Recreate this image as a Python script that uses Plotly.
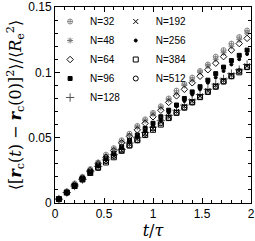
import plotly.graph_objects as go

t_vals = [0.04, 0.12, 0.20, 0.28, 0.36, 0.44, 0.52, 0.60, 0.68, 0.76, 0.84, 0.92, 1.00,
          1.08, 1.16, 1.24, 1.32, 1.40, 1.48, 1.56, 1.64, 1.72, 1.80, 1.88, 1.96]

labels = ["N=32", "N=48", "N=64", "N=96", "N=128", "N=192", "N=256", "N=384", "N=512"]

msd = {
    "N=32":  [0.003, 0.009, 0.015, 0.020, 0.026, 0.031, 0.037, 0.042, 0.048, 0.053, 0.059, 0.064, 0.069,
              0.074, 0.080, 0.086, 0.091, 0.096, 0.101, 0.106, 0.112, 0.117, 0.122, 0.127, 0.132],
    "N=48":  [0.003, 0.008, 0.014, 0.020, 0.025, 0.031, 0.036, 0.041, 0.047, 0.052, 0.058, 0.063, 0.068,
              0.073, 0.079, 0.084, 0.090, 0.094, 0.100, 0.105, 0.110, 0.115, 0.120, 0.125, 0.130],
    "N=64":  [0.003, 0.008, 0.014, 0.019, 0.025, 0.030, 0.035, 0.040, 0.046, 0.051, 0.056, 0.061, 0.066,
              0.071, 0.077, 0.082, 0.087, 0.092, 0.097, 0.102, 0.107, 0.112, 0.117, 0.122, 0.126],
    "N=96":  [0.003, 0.008, 0.013, 0.019, 0.024, 0.029, 0.034, 0.038, 0.043, 0.048, 0.052, 0.057, 0.061,
              0.066, 0.071, 0.075, 0.080, 0.085, 0.089, 0.094, 0.099, 0.104, 0.109, 0.113, 0.117],
    "N=128": [0.003, 0.008, 0.013, 0.018, 0.024, 0.028, 0.033, 0.037, 0.041, 0.046, 0.050, 0.054, 0.058,
              0.063, 0.067, 0.071, 0.075, 0.079, 0.083, 0.087, 0.091, 0.095, 0.099, 0.102, 0.106],
    "N=192": [0.003, 0.008, 0.013, 0.018, 0.023, 0.028, 0.032, 0.036, 0.040, 0.045, 0.049, 0.053, 0.057,
              0.062, 0.066, 0.070, 0.074, 0.078, 0.082, 0.086, 0.090, 0.094, 0.098, 0.101, 0.105],
    "N=256": [0.003, 0.008, 0.013, 0.018, 0.023, 0.028, 0.033, 0.037, 0.042, 0.047, 0.051, 0.055, 0.060,
              0.064, 0.069, 0.074, 0.078, 0.083, 0.087, 0.092, 0.096, 0.101, 0.106, 0.110, 0.114],
    "N=384": [0.003, 0.008, 0.013, 0.018, 0.023, 0.027, 0.031, 0.035, 0.040, 0.044, 0.048, 0.052, 0.056,
              0.060, 0.065, 0.069, 0.073, 0.077, 0.081, 0.085, 0.089, 0.093, 0.097, 0.100, 0.104],
    "N=512": [0.003, 0.008, 0.013, 0.018, 0.023, 0.027, 0.032, 0.036, 0.040, 0.044, 0.048, 0.053, 0.057,
              0.061, 0.065, 0.069, 0.073, 0.077, 0.081, 0.085, 0.089, 0.093, 0.097, 0.101, 0.104],
}

styles = {
    "N=32":  dict(symbol="circle-cross-open", color="#8a8a8a", size=5, legend="legend"),
    "N=48":  dict(symbol="asterisk-open", color="#7a7a7a", size=5, legend="legend"),
    "N=64":  dict(symbol="diamond-open", color="#111111", size=5, legend="legend"),
    "N=96":  dict(symbol="square", color="#000000", size=4, legend="legend"),
    "N=128": dict(symbol="cross-thin-open", color="#555555", size=6, legend="legend"),
    "N=192": dict(symbol="x-thin-open", color="#000000", size=5, legend="legend2"),
    "N=256": dict(symbol="circle", color="#000000", size=3, legend="legend2"),
    "N=384": dict(symbol="square-open", color="#000000", size=5, legend="legend2"),
    "N=512": dict(symbol="circle-open", color="#000000", size=5, legend="legend2"),
}

fig = go.Figure()
for lab in labels:
    s = styles[lab]
    fig.add_trace(go.Scatter(
        x=t_vals, y=msd[lab], mode="markers", name=lab, legend=s["legend"],
        marker=dict(symbol=s["symbol"], color=s["color"], size=s["size"],
                    line=dict(color=s["color"], width=1)),
    ))

axis_common = dict(
    showline=True, linecolor="black", linewidth=1, mirror="allticks",
    ticks="inside", ticklen=5, tickcolor="black", tickwidth=1,
    showgrid=False, zeroline=False, automargin=False,
    tickfont=dict(family="Liberation Sans, Arial, sans-serif", size=12, color="black"),
)

fig.update_layout(
    width=255, height=241,
    margin=dict(l=55, r=4, t=7, b=38),
    paper_bgcolor="white", plot_bgcolor="white",
    xaxis=dict(range=[0, 2], tickvals=[0, 0.5, 1, 1.5, 2], ticktext=["0", "0.5", "1", "1.5", "2"],
               minor=dict(dtick=0.1, ticks="inside", ticklen=3, tickcolor="black"),
               title=dict(text="<i>t</i>/<i>τ</i>", standoff=3,
                          font=dict(family="DejaVu Serif, serif", size=16, color="black")),
               **axis_common),
    yaxis=dict(range=[0, 0.15], tickvals=[0, 0.05, 0.1, 0.15], ticktext=["0", "0.05", "0.1", "0.15"],
               minor=dict(dtick=0.01, ticks="inside", ticklen=3, tickcolor="black"),
               title=dict(text="⟨[<b><i>r</i></b><sub>c</sub>(<i>t</i>) − <b><i>r</i></b><sub>c</sub>(0)]<sup>2</sup>⟩/⟨<i>R</i><sub>e</sub><sup>2</sup>⟩",
                          standoff=2,
                          font=dict(family="DejaVu Serif, serif", size=16, color="black")),
               **axis_common),
    legend=dict(x=-0.025, y=1.0, xanchor="left", yanchor="top", bgcolor="rgba(0,0,0,0)",
                font=dict(family="Liberation Sans, Arial, sans-serif", size=10, color="black"),
                itemwidth=30, tracegroupgap=0),
    legend2=dict(x=0.31, y=1.0, xanchor="left", yanchor="top", bgcolor="rgba(0,0,0,0)",
                 font=dict(family="Liberation Sans, Arial, sans-serif", size=10, color="black"),
                 itemwidth=30, tracegroupgap=0),
    showlegend=True,
)

fig.write_html("out.html", config={"displayModeBar": False},
               post_script="document.body.style.margin='0';document.body.style.overflow='hidden';")
